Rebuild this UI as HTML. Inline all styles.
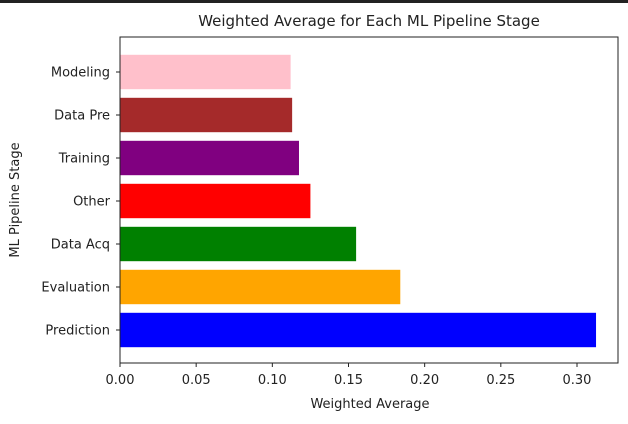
<!DOCTYPE html>
<html><head><meta charset="utf-8"><style>
body{margin:0;background:#fff;width:628px;height:420px;overflow:hidden;font-family:"DejaVu Sans","Liberation Sans",sans-serif}
</style></head><body>
<svg width="628" height="420">
<rect x="0" y="0" width="628" height="3" fill="#222"/>
<text x="369" y="26" text-anchor="middle" font-size="15" fill="#222">Weighted Average for Each ML Pipeline Stage</text>
<g id="bars"></g>
<rect x="120" y="37" width="498" height="326" fill="none" stroke="#222" stroke-width="1"/>
<g id="ticks" font-size="13" fill="#222"></g>
<text x="370" y="408" text-anchor="middle" font-size="13" fill="#222">Weighted Average</text>
<text x="19" y="200" text-anchor="middle" font-size="13" fill="#222" transform="rotate(-90 19 200)">ML Pipeline Stage</text>
</svg>
<script>
const categories=["Prediction","Evaluation","Data Acq","Other","Training","Data Pre","Modeling"];
const values=[0.3125,0.184,0.155,0.125,0.1175,0.113,0.112];
const colors=["blue","orange","green","red","purple","brown","pink"];
const xTicks=[0,0.05,0.10,0.15,0.20,0.25,0.30];
const xTickLabels=["0.00","0.05","0.10","0.15","0.20","0.25","0.30"];
const NS="http://www.w3.org/2000/svg";
const x=v=>120+v*1523.3;
const y=i=>330-43*i;
const bh=34.4;
const gb=document.getElementById('bars'),gt=document.getElementById('ticks');
function mk(t,a,p){const e=document.createElementNS(NS,t);for(const k in a)e.setAttribute(k,a[k]);p.appendChild(e);return e;}
categories.forEach((c,i)=>{
 const r=mk('rect',{x:x(0),y:y(i)-bh/2,width:x(values[i])-x(0),height:bh,fill:colors[i]},gb);
 
 
 const l=mk('line',{x1:116,x2:120,y1:y(i),y2:y(i),stroke:'#222'},gt);
 
 
 const t=mk('text',{x:110,y:y(i)+4.5,'text-anchor':'end'},gt);t.textContent=c;
 
 
});
xTicks.forEach((v,i)=>{
 const l=mk('line',{x1:x(v),x2:x(v),y1:363,y2:367,stroke:'#222'},gt);
 
 
 const t=mk('text',{x:x(v),y:384,'text-anchor':'middle'},gt);t.textContent=xTickLabels[i];
 
 
});
</script>
</body></html>
